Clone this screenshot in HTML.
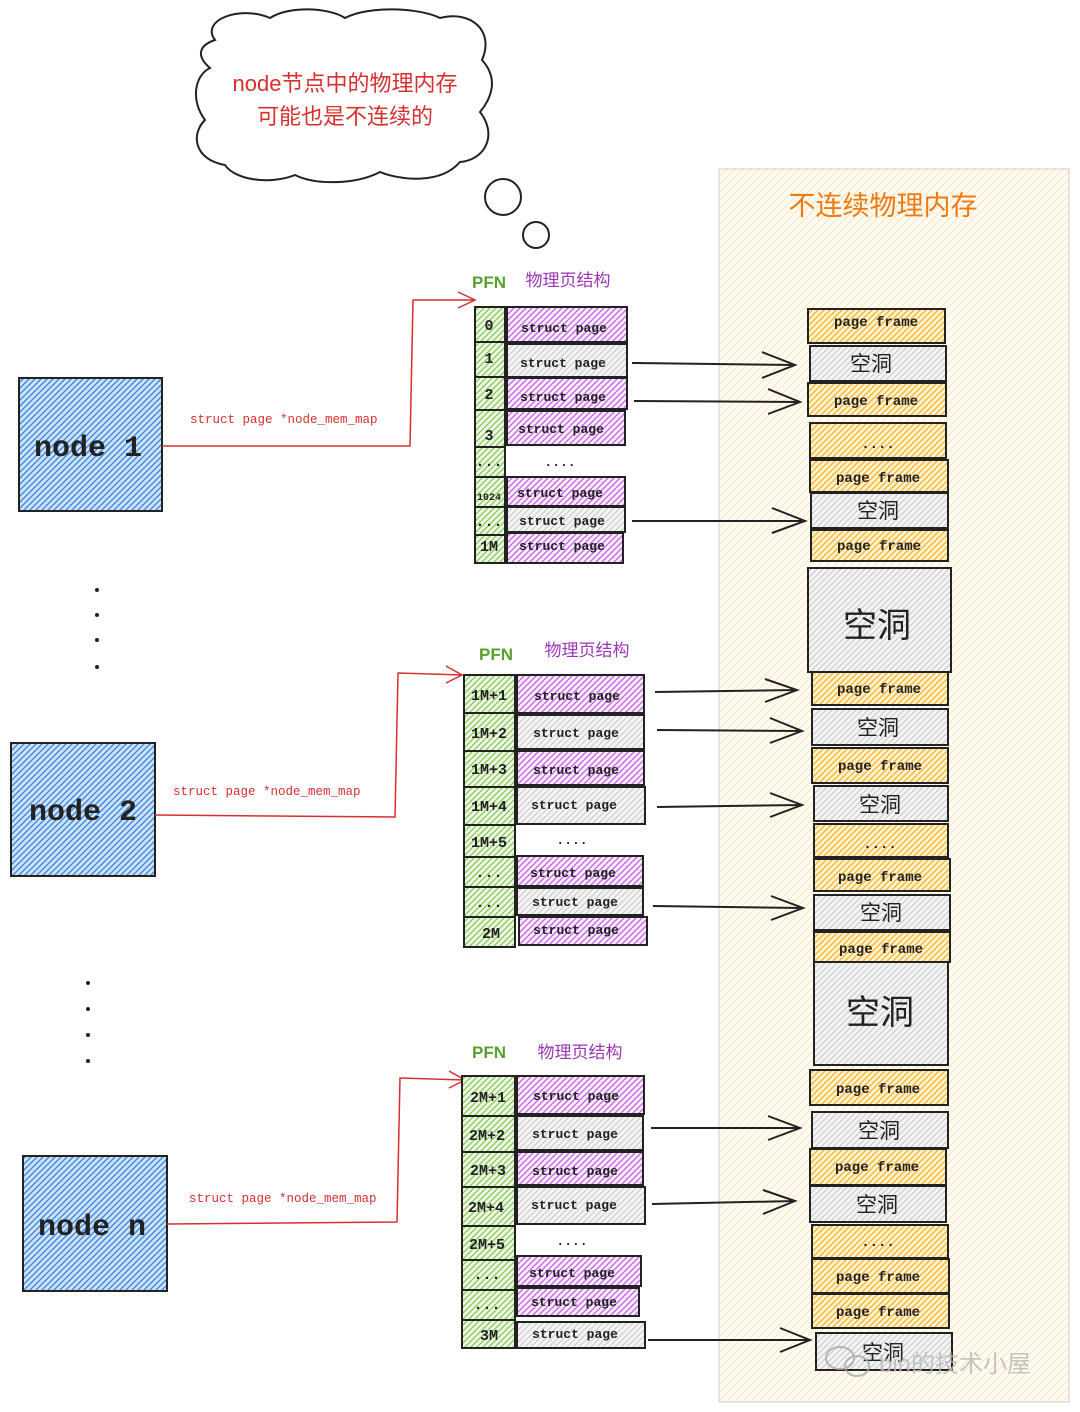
<!DOCTYPE html>
<html><head><meta charset="utf-8"><style>
body{margin:0;background:#fff}
svg{display:block}
.m{font-family:"Liberation Mono",monospace;fill:#222}
.c{font-family:"Liberation Sans","Noto Sans CJK SC",sans-serif}
.b{stroke:#222;stroke-width:2}
</style></head><body>
<svg width="1080" height="1412" viewBox="0 0 1080 1412" xmlns="http://www.w3.org/2000/svg">
<defs>
<pattern id="pu" width="6" height="6" patternUnits="userSpaceOnUse"><rect width="6" height="6" fill="#fbeefe"/><path d="M-1,7 L7,-1 M-1,1 L1,-1 M5,7 L7,5" stroke="#c76ae8" stroke-width="1.4"/></pattern>
<pattern id="gr" width="6" height="6" patternUnits="userSpaceOnUse"><rect width="6" height="6" fill="#f4f4f4"/><path d="M-1,7 L7,-1 M-1,1 L1,-1 M5,7 L7,5" stroke="#c8c8c8" stroke-width="1"/></pattern>
<pattern id="gn" width="6" height="6" patternUnits="userSpaceOnUse"><rect width="6" height="6" fill="#eef8e4"/><path d="M-1,7 L7,-1 M-1,1 L1,-1 M5,7 L7,5" stroke="#86c957" stroke-width="1.3"/></pattern>
<pattern id="or" width="6" height="6" patternUnits="userSpaceOnUse"><rect width="6" height="6" fill="#fff2cf"/><path d="M-1,7 L7,-1 M-1,1 L1,-1 M5,7 L7,5" stroke="#f8b73a" stroke-width="1.4"/></pattern>
<pattern id="bl" width="6" height="6" patternUnits="userSpaceOnUse"><rect width="6" height="6" fill="#cfe3f8"/><path d="M-1,7 L7,-1 M-1,1 L1,-1 M5,7 L7,5" stroke="#3f8ae0" stroke-width="1.4"/></pattern>
<pattern id="bg" width="8" height="8" patternUnits="userSpaceOnUse"><rect width="8" height="8" fill="#fffbf2"/><path d="M-1,9 L9,-1" stroke="#fbe6bd" stroke-width="1"/></pattern>
</defs>

<!-- cloud -->
<path d="M215,40 C200,20 240,5 270,18 C290,5 330,8 345,18 C370,5 420,8 440,18 C470,10 495,30 482,60 C500,80 490,100 480,112 C498,135 485,160 460,162 C440,185 400,180 380,172 C355,185 315,185 295,175 C270,185 235,180 225,165 C195,160 190,135 205,120 C190,100 195,75 210,68 C195,55 200,45 215,40 Z" fill="#fff" stroke="#222" stroke-width="2"/>
<text x="345" y="91" text-anchor="middle" class="c" font-size="22" fill="#d63030">node节点中的物理内存</text>
<text x="345" y="124" text-anchor="middle" class="c" font-size="22" fill="#d63030">可能也是不连续的</text>
<circle cx="503" cy="197" r="18" fill="#fff" stroke="#222" stroke-width="2"/>
<circle cx="536" cy="235" r="13" fill="#fff" stroke="#222" stroke-width="2"/>

<!-- right panel -->
<rect x="719" y="169" width="350" height="1233" fill="url(#bg)" stroke="#ddd" stroke-width="1.5"/>
<text x="883" y="215" text-anchor="middle" class="c" font-size="27" fill="#ee7a12">不连续物理内存</text>

<!-- nodes -->
<rect x="19" y="378" width="143" height="133" fill="url(#bl)" class="b"/>
<text x="88" y="456" text-anchor="middle" class="m" font-size="30" font-weight="bold">node 1</text>
<rect x="11" y="743" width="144" height="133" fill="url(#bl)" class="b"/>
<text x="83" y="820" text-anchor="middle" class="m" font-size="30" font-weight="bold">node 2</text>
<rect x="23" y="1156" width="144" height="135" fill="url(#bl)" class="b"/>
<text x="92" y="1235" text-anchor="middle" class="m" font-size="30" font-weight="bold">node n</text>

<g fill="#222"><circle cx="97" cy="590" r="2"/><circle cx="97" cy="615" r="2"/><circle cx="97" cy="640" r="2"/><circle cx="97" cy="667" r="2"/>
<circle cx="88" cy="983" r="2"/><circle cx="88" cy="1009" r="2"/><circle cx="88" cy="1035" r="2"/><circle cx="88" cy="1061" r="2"/></g>

<!-- red connectors -->
<g fill="none" stroke="#d63030" stroke-width="1.5">
<path d="M162,446 L410,446 L413,300 L475,300 M458,292 L475,300 L458,308"/>
<path d="M155,815 L395,817 L398,673 L462,675 M446,666 L462,675 L446,683"/>
<path d="M167,1224 L397,1222 L400,1078 L465,1080 M449,1071 L465,1080 L449,1088"/>
</g>
<g class="m" font-size="12.5">
<text x="190" y="423" style="fill:#d63030">struct page *node_mem_map</text>
<text x="173" y="795" style="fill:#d63030">struct page *node_mem_map</text>
<text x="189" y="1202" style="fill:#d63030">struct page *node_mem_map</text>
</g>

<!-- group labels -->
<g class="c" font-size="17">
<text x="489" y="288" text-anchor="middle" fill="#5aa02c" font-weight="bold">PFN</text>
<text x="568" y="286" text-anchor="middle" fill="#9c36b5">物理页结构</text>
<text x="496" y="660" text-anchor="middle" fill="#5aa02c" font-weight="bold">PFN</text>
<text x="587" y="656" text-anchor="middle" fill="#9c36b5">物理页结构</text>
<text x="489" y="1058" text-anchor="middle" fill="#5aa02c" font-weight="bold">PFN</text>
<text x="580" y="1058" text-anchor="middle" fill="#9c36b5">物理页结构</text>
</g>

<!-- group 1 -->
<g class="b">
<rect x="475" y="307" width="30" height="35" fill="url(#gn)"/>
<rect x="475" y="342" width="30" height="35" fill="url(#gn)"/>
<rect x="475" y="377" width="30" height="33" fill="url(#gn)"/>
<rect x="475" y="410" width="30" height="37" fill="url(#gn)"/>
<rect x="475" y="447" width="30" height="30" fill="url(#gn)"/>
<rect x="475" y="477" width="30" height="30" fill="url(#gn)"/>
<rect x="475" y="507" width="30" height="28" fill="url(#gn)"/>
<rect x="475" y="535" width="30" height="28" fill="url(#gn)"/>
<rect x="507" y="307" width="120" height="35" fill="url(#pu)"/>
<rect x="507" y="344" width="120" height="33" fill="url(#gr)"/>
<rect x="507" y="378" width="120" height="31" fill="url(#pu)"/>
<rect x="507" y="411" width="118" height="34" fill="url(#pu)"/>
<rect x="507" y="477" width="118" height="29" fill="url(#pu)"/>
<rect x="507" y="507" width="118" height="25" fill="url(#gr)"/>
<rect x="507" y="533" width="116" height="30" fill="url(#pu)"/>
</g>
<g class="m" font-size="15" text-anchor="middle" font-weight="bold">
<text x="489" y="330">0</text><text x="489" y="363">1</text><text x="489" y="399">2</text><text x="489" y="440">3</text><text x="489" y="466">...</text><text x="489" y="500" font-size="10">1024</text><text x="489" y="526">...</text><text x="489" y="551">1M</text>
</g>
<g class="m" font-size="13" text-anchor="middle" font-weight="bold">
<text x="564" y="332">struct page</text><text x="563" y="367">struct page</text><text x="563" y="401">struct page</text><text x="561" y="433">struct page</text><text x="560" y="466">....</text><text x="560" y="497">struct page</text><text x="562" y="525">struct page</text><text x="562" y="550">struct page</text>
</g>

<!-- group 2 -->
<g class="b">
<rect x="464" y="675" width="51" height="38" fill="url(#gn)"/>
<rect x="464" y="713" width="51" height="38" fill="url(#gn)"/>
<rect x="464" y="751" width="51" height="36" fill="url(#gn)"/>
<rect x="464" y="787" width="51" height="38" fill="url(#gn)"/>
<rect x="464" y="825" width="51" height="32" fill="url(#gn)"/>
<rect x="464" y="857" width="51" height="30" fill="url(#gn)"/>
<rect x="464" y="887" width="51" height="30" fill="url(#gn)"/>
<rect x="464" y="917" width="51" height="30" fill="url(#gn)"/>
<rect x="517" y="675" width="127" height="38" fill="url(#pu)"/>
<rect x="517" y="715" width="127" height="34" fill="url(#gr)"/>
<rect x="517" y="751" width="127" height="34" fill="url(#pu)"/>
<rect x="517" y="787" width="128" height="37" fill="url(#gr)"/>
<rect x="517" y="856" width="126" height="30" fill="url(#pu)"/>
<rect x="517" y="888" width="126" height="27" fill="url(#gr)"/>
<rect x="519" y="917" width="128" height="28" fill="url(#pu)"/>
</g>
<g class="m" font-size="15" text-anchor="middle" font-weight="bold">
<text x="489" y="700">1M+1</text><text x="489" y="738">1M+2</text><text x="489" y="774">1M+3</text><text x="489" y="811">1M+4</text><text x="489" y="847">1M+5</text><text x="489" y="877">...</text><text x="489" y="907">...</text><text x="491" y="938">2M</text>
</g>
<g class="m" font-size="13" text-anchor="middle" font-weight="bold">
<text x="577" y="700">struct page</text><text x="576" y="737">struct page</text><text x="576" y="774">struct page</text><text x="574" y="809">struct page</text><text x="572" y="844">....</text><text x="573" y="877">struct page</text><text x="575" y="906">struct page</text><text x="576" y="934">struct page</text>
</g>

<!-- group 3 -->
<g class="b">
<rect x="462" y="1076" width="53" height="40" fill="url(#gn)"/>
<rect x="462" y="1116" width="53" height="36" fill="url(#gn)"/>
<rect x="462" y="1152" width="53" height="35" fill="url(#gn)"/>
<rect x="462" y="1187" width="53" height="39" fill="url(#gn)"/>
<rect x="462" y="1226" width="53" height="34" fill="url(#gn)"/>
<rect x="462" y="1260" width="53" height="30" fill="url(#gn)"/>
<rect x="462" y="1290" width="53" height="30" fill="url(#gn)"/>
<rect x="462" y="1320" width="53" height="28" fill="url(#gn)"/>
<rect x="517" y="1076" width="127" height="38" fill="url(#pu)"/>
<rect x="517" y="1116" width="126" height="34" fill="url(#gr)"/>
<rect x="517" y="1152" width="126" height="33" fill="url(#pu)"/>
<rect x="517" y="1187" width="128" height="37" fill="url(#gr)"/>
<rect x="517" y="1256" width="124" height="30" fill="url(#pu)"/>
<rect x="517" y="1288" width="122" height="28" fill="url(#pu)"/>
<rect x="517" y="1322" width="128" height="26" fill="url(#gr)"/>
</g>
<g class="m" font-size="15" text-anchor="middle" font-weight="bold">
<text x="488" y="1102">2M+1</text><text x="487" y="1140">2M+2</text><text x="488" y="1175">2M+3</text><text x="486" y="1212">2M+4</text><text x="487" y="1249">2M+5</text><text x="487" y="1279">...</text><text x="487" y="1309">...</text><text x="489" y="1340">3M</text>
</g>
<g class="m" font-size="13" text-anchor="middle" font-weight="bold">
<text x="576" y="1100">struct page</text><text x="575" y="1138">struct page</text><text x="575" y="1175">struct page</text><text x="574" y="1209">struct page</text><text x="572" y="1245">....</text><text x="572" y="1277">struct page</text><text x="574" y="1306">struct page</text><text x="575" y="1338">struct page</text>
</g>

<!-- black arrows -->
<g fill="none" stroke="#222" stroke-width="2">
<path d="M632,363 L795,365 M762,352 L795,365 L762,378"/>
<path d="M634,401 L800,402 M768,389 L800,402 L768,414"/>
<path d="M632,521 L805,521 M772,508 L805,521 L772,533"/>
<path d="M655,692 L797,690 M765,679 L797,690 L765,702"/>
<path d="M657,730 L802,731 M770,718 L802,731 L770,743"/>
<path d="M657,807 L802,805 M770,793 L802,805 L770,817"/>
<path d="M653,906 L803,908 M771,896 L803,908 L771,920"/>
<path d="M651,1128 L800,1128 M768,1116 L800,1128 L768,1140"/>
<path d="M652,1204 L795,1201 M763,1190 L795,1201 L763,1214"/>
<path d="M648,1340 L810,1340 M780,1328 L810,1340 L780,1352"/>
</g>

<!-- right frames -->
<g class="b">
<rect x="808" y="309" width="137" height="34" fill="url(#or)"/>
<rect x="810" y="346" width="136" height="35" fill="url(#gr)"/>
<rect x="808" y="383" width="138" height="33" fill="url(#or)"/>
<rect x="810" y="423" width="136" height="35" fill="url(#or)"/>
<rect x="810" y="460" width="138" height="32" fill="url(#or)"/>
<rect x="811" y="493" width="137" height="35" fill="url(#gr)"/>
<rect x="811" y="530" width="137" height="31" fill="url(#or)"/>
<rect x="808" y="568" width="143" height="104" fill="url(#gr)"/>
<rect x="812" y="672" width="136" height="33" fill="url(#or)"/>
<rect x="812" y="709" width="136" height="36" fill="url(#gr)"/>
<rect x="812" y="748" width="136" height="35" fill="url(#or)"/>
<rect x="814" y="786" width="134" height="35" fill="url(#gr)"/>
<rect x="814" y="824" width="134" height="33" fill="url(#or)"/>
<rect x="814" y="859" width="136" height="32" fill="url(#or)"/>
<rect x="814" y="895" width="136" height="35" fill="url(#gr)"/>
<rect x="814" y="932" width="136" height="30" fill="url(#or)"/>
<rect x="814" y="962" width="134" height="103" fill="url(#gr)"/>
<rect x="810" y="1070" width="138" height="35" fill="url(#or)"/>
<rect x="812" y="1112" width="136" height="36" fill="url(#gr)"/>
<rect x="810" y="1149" width="136" height="36" fill="url(#or)"/>
<rect x="810" y="1186" width="136" height="36" fill="url(#gr)"/>
<rect x="812" y="1225" width="136" height="33" fill="url(#or)"/>
<rect x="812" y="1259" width="137" height="34" fill="url(#or)"/>
<rect x="812" y="1294" width="137" height="34" fill="url(#or)"/>
<rect x="816" y="1333" width="136" height="37" fill="url(#gr)"/>
</g>
<g class="m" font-size="14" text-anchor="middle" font-weight="bold">
<text x="876" y="326">page frame</text><text x="876" y="405">page frame</text><text x="878" y="448">....</text><text x="878" y="482">page frame</text><text x="879" y="550">page frame</text>
<text x="879" y="693">page frame</text><text x="880" y="770">page frame</text><text x="880" y="848">....</text><text x="880" y="881">page frame</text><text x="881" y="953">page frame</text>
<text x="878" y="1093">page frame</text><text x="877" y="1171">page frame</text><text x="878" y="1246">....</text><text x="878" y="1281">page frame</text><text x="878" y="1316">page frame</text>
</g>
<g class="c" font-size="21" text-anchor="middle" fill="#222">
<text x="871" y="371">空洞</text><text x="878" y="518">空洞</text><text x="878" y="735">空洞</text><text x="880" y="812">空洞</text><text x="881" y="920">空洞</text>
<text x="879" y="1138">空洞</text><text x="877" y="1212">空洞</text><text x="883" y="1360">空洞</text>
<text x="877" y="637" font-size="34">空洞</text><text x="880" y="1024" font-size="34">空洞</text>
</g>
<g fill="none" stroke="#aaa" stroke-width="2" opacity="0.8"><ellipse cx="840" cy="1358" rx="14" ry="11"/><ellipse cx="857" cy="1366" rx="12" ry="10"/></g>
<text x="955" y="1372" text-anchor="middle" class="c" font-size="24" fill="#bbb" opacity="0.85">bin的技术小屋</text>
</svg>
</body></html>
